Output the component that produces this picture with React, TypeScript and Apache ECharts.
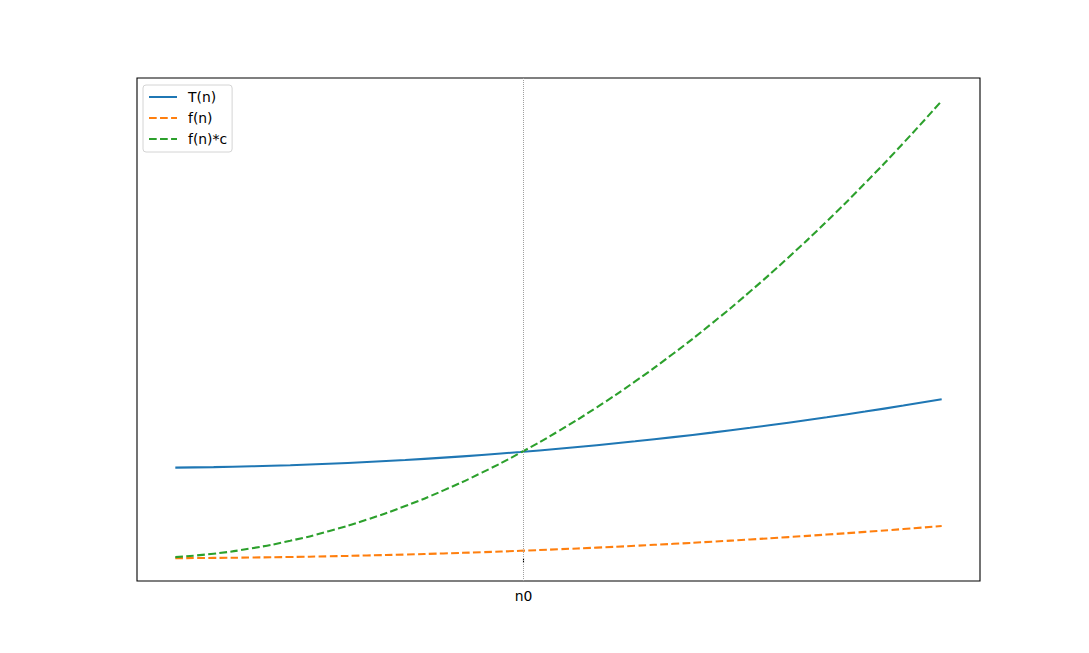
import React, { useEffect, useRef } from "react";
import * as echarts from "echarts";

const nValues = [0, 5, 10, 15, 20, 25, 30, 35, 40, 45, 50, 55, 60, 65, 70, 75, 80, 85, 90, 95, 100];
const tValues = [19.79, 19.9, 20.08, 20.33, 20.64, 21.02, 21.47, 21.98, 22.56, 23.21, 23.92, 24.7, 25.55, 26.47, 27.45, 28.5, 29.62, 30.8, 32.05, 33.37, 34.75];
const fValues = [0, 0.05, 0.14, 0.25, 0.4, 0.58, 0.78, 1.03, 1.3, 1.6, 1.94, 2.3, 2.7, 3.13, 3.59, 4.08, 4.6, 5.16, 5.74, 6.36, 7.01];
const fcValues = [0.22, 0.97, 2.16, 3.8, 5.89, 8.42, 11.4, 14.82, 18.7, 23.02, 27.78, 32.99, 38.65, 44.76, 51.31, 58.31, 65.76, 73.64, 81.99, 90.77, 100.0];
const n0 = 45.44;
const n0Label = "n0";
const seriesNames = ["T(n)", "f(n)", "f(n)*c"];

const FONT = "DejaVu Sans";

export default function App() {
  const ref = useRef<HTMLDivElement>(null);
  useEffect(() => {
    if (!ref.current) return;
    const chart = echarts.init(ref.current, null, { renderer: "svg" });
    const pairs = (ys: number[]) => nValues.map((x, i) => [x, ys[i]]);
    const dash = [7.7, 3.33];
    const lw = 2.08;
    chart.setOption({
      animation: false,
      backgroundColor: "#fff",
      grid: {
        left: 137,
        top: 78,
        width: 843,
        height: 503,
        show: true,
        borderColor: "#000",
        borderWidth: 1.1,
        backgroundColor: "transparent",
      },
      legend: {
        orient: "vertical",
        left: 143,
        top: 85,
        itemWidth: 28,
        itemHeight: 14,
        itemGap: 7,
        padding: [5, 5, 6, 5],
        borderColor: "#d4d4d4",
        borderWidth: 1,
        borderRadius: 3,
        backgroundColor: "rgba(255,255,255,0.8)",
        itemStyle: { opacity: 0 },
        textStyle: {
          fontFamily: FONT,
          fontSize: 13.9,
          color: "#000",
          padding: [0, 0, 0, 6],
        },
        data: seriesNames,
      },
      xAxis: {
        type: "value",
        min: -5,
        max: 105,
        axisLine: { show: false },
        splitLine: { show: false },
        axisTick: {
          show: true,
          customValues: [n0],
          length: 4.9,
          lineStyle: { color: "#000", width: 1.1 },
        },
        axisLabel: {
          show: true,
          customValues: [n0],
          formatter: () => n0Label,
          color: "#000",
          fontFamily: FONT,
          fontSize: 13.9,
          margin: 8,
        },
      },
      yAxis: {
        type: "value",
        min: -5,
        max: 105,
        show: false,
        splitLine: { show: false },
      },
      series: [
        {
          name: seriesNames[0],
          type: "line",
          data: pairs(tValues),
          smooth: true,
          symbol: "none",
          lineStyle: { color: "#1f77b4", width: lw },
          itemStyle: { color: "#1f77b4" },
          markLine: {
            silent: true,
            symbol: "none",
            label: { show: false },
            lineStyle: { color: "#a0a0a0", width: 1, type: [1, 1] },
            data: [{ xAxis: n0 }],
          },
          z: 3,
        },
        {
          name: seriesNames[1],
          type: "line",
          data: pairs(fValues),
          smooth: true,
          symbol: "none",
          lineStyle: { color: "#ff7f0e", width: lw, type: dash },
          itemStyle: { color: "#ff7f0e" },
          z: 3,
        },
        {
          name: seriesNames[2],
          type: "line",
          data: pairs(fcValues),
          smooth: true,
          symbol: "none",
          lineStyle: { color: "#2ca02c", width: lw, type: dash },
          itemStyle: { color: "#2ca02c" },
          z: 3,
        },
      ],
    });
    return () => chart.dispose();
  }, []);
  return (
    <div
      ref={ref}
      style={{ position: "fixed", left: 0, top: 0, width: 1089, height: 653 }}
    />
  );
}
